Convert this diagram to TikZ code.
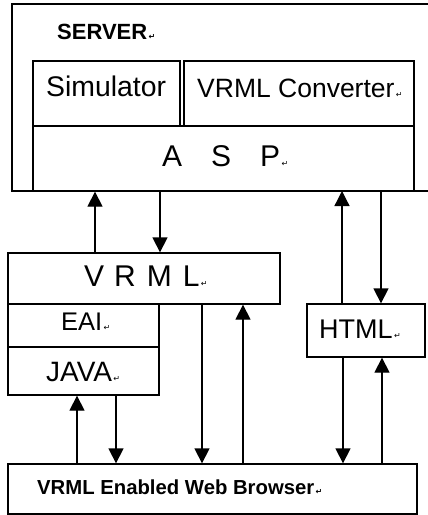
\documentclass[tikz,border=0pt]{standalone}
\usepackage{fontspec}
\setmainfont{Liberation Sans}
\newfontfamily\dejavu{DejaVu Sans}
\usetikzlibrary{arrows.meta}

% small paragraph mark that follows each label
\newcommand\pmark{{\dejavu\fontsize{8}{8}\selectfont\,↵}}
\newcommand\fs[1]{\fontsize{#1}{#1}\selectfont}

\tikzset{
  box/.style={draw, line width=1.3pt, rectangle, inner sep=0pt},
  lbl/.style={inner sep=0pt, anchor=base west},
  flow/.style={line width=1.3pt, -{Triangle[length=15pt,width=15pt]}},
}

\begin{document}
\begin{tikzpicture}[x=1pt,y=-1pt]
  \useasboundingbox (0,0) rectangle (428,515);

  % server frame (open to the right)
  \coordinate (srvNW) at (12,4);
  \coordinate (srvSW) at (12,191);
  \coordinate (srvNE) at (428,4);
  \coordinate (srvSE) at (428,191);
  \draw[line width=1.3pt] (srvNE) -- (srvNW) -- (srvSW) -- (srvSE);
  \node[lbl, font=\fs{22}\bfseries] (server) at (57,39) {SERVER\pmark};

  % server components
  \node[box, minimum width=147pt, minimum height=65pt] (sim) at (106.5,93.5) {};
  \node[box, minimum width=230pt, minimum height=65pt] (conv) at (299,93.5) {};
  \node[box, minimum width=381pt, minimum height=65pt] (asp) at (223.5,158.5) {};
  \node[lbl, font=\fs{28.4}] (simT) at (46,96.5) {Simulator};
  \node[lbl, font=\fs{26.5}] (convT) at (197,97.5) {VRML Converter\pmark};
  \node[lbl, font=\fs{30}] (aspT) at (162,166) {A\hspace{29pt}S\hspace{29pt}P\pmark};

  % client side blocks
  \node[box, minimum width=272pt, minimum height=51pt] (vrml) at (144,278.5) {};
  \node[box, minimum width=151pt, minimum height=43pt] (eai) at (83.5,325.5) {};
  \node[box, minimum width=151pt, minimum height=48pt] (java) at (83.5,371) {};
  \node[box, minimum width=118pt, minimum height=53pt] (html) at (366,330.5) {};
  \node[box, minimum width=409pt, minimum height=50pt] (browser) at (212.5,489) {};

  \node[lbl, font=\fs{30}] (vrmlT) at (84,286) {V\hspace{10pt}R\hspace{11pt}M\hspace{11pt}L\pmark};
  \node[lbl, font=\fs{25.5}] (eaiT) at (61,330) {EAI\pmark};
  \node[lbl, font=\fs{28}] (javaT) at (46,381) {JAVA\pmark};
  \node[lbl, font=\fs{27}] (htmlT) at (319,338.5) {HTML\pmark};
  \node[lbl, font=\fs{20.3}\bfseries] (browserT) at (37,494) {VRML Enabled Web Browser\pmark};

  % vertical positions of the connectors
  \coordinate (c1) at (95,0);
  \coordinate (c2) at (160,0);
  \coordinate (c3) at (342,0);
  \coordinate (c4) at (381,0);
  \coordinate (c5) at (77,0);
  \coordinate (c6) at (116,0);
  \coordinate (c7) at (202,0);
  \coordinate (c8) at (243,0);
  \coordinate (c9) at (343,0);
  \coordinate (c10) at (382,0);

  % server <-> VRML and HTML
  \draw[flow] (vrml.north -| c1) -- (asp.south -| c1);
  \draw[flow] (asp.south -| c2) -- (vrml.north -| c2);
  \draw[flow] (html.north -| c3) -- (srvSE -| c3);
  \draw[flow] (srvSE -| c4) -- (html.north -| c4);

  % browser <-> JAVA, VRML and HTML
  \draw[flow] (browser.north -| c5) -- (java.south -| c5);
  \draw[flow] (java.south -| c6) -- (browser.north -| c6);
  \draw[flow] (vrml.south -| c7) -- (browser.north -| c7);
  \draw[flow] (browser.north -| c8) -- (vrml.south -| c8);
  \draw[flow] (html.south -| c9) -- (browser.north -| c9);
  \draw[flow] (browser.north -| c10) -- (html.south -| c10);
\end{tikzpicture}
\end{document}
